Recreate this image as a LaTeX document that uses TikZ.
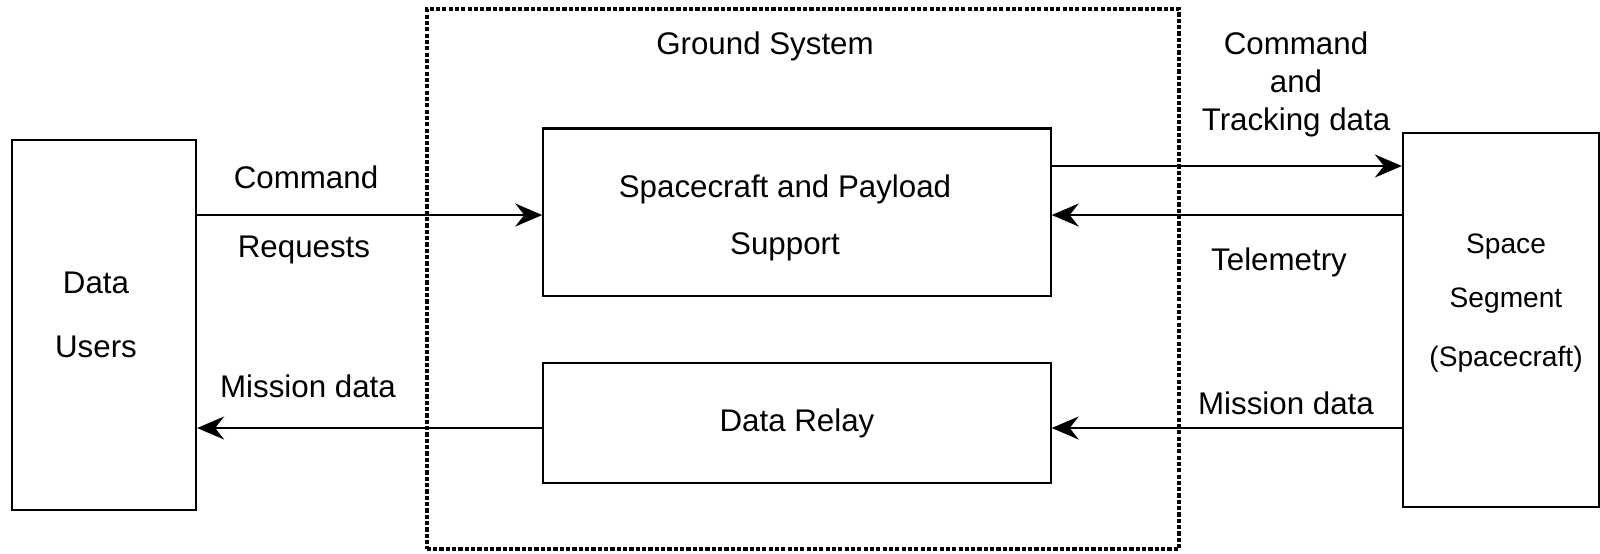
\documentclass[tikz,border=0pt]{standalone}
\usepackage{fontspec}
\setmainfont{Liberation Sans}
\usepackage{tikz}
\usetikzlibrary{positioning,arrows.meta}

\begin{document}
\begin{tikzpicture}[x=0.01cm, y=-0.01cm,
        font=\fontsize{8.9}{10.8}\selectfont,
        block/.style={rectangle, draw, line width=0.6pt, align=center, inner sep=0pt},
        flow/.style={-{Stealth[length=2.7mm, width=2.3mm, inset=0.9mm]}, line width=0.6pt},
        lbl/.style={inner sep=0pt, align=center}]
        \useasboundingbox (0,0) rectangle (1600,553);

        % boxes
        \node (ground) [rectangle, draw, line width=1.2pt, dash pattern=on 1.2pt off 0.6pt, minimum width=7.52cm, minimum height=5.4cm] at (803,279) {};
        \node (users) [block, minimum width=1.84cm, minimum height=3.7cm] at (104,325) {};
        \node (support) [block, minimum width=5.07cm, minimum height=1.67cm] at (797,212) {};
        \node (relay) [block, minimum width=5.07cm, minimum height=1.2cm] at (797,423) {Data Relay};
        \node (space) [block, minimum width=1.96cm, minimum height=3.74cm] at (1501,320) {};

        % labels
        \node (userstext) [lbl] at (96,315) {Data\\[7.3pt]Users};
        \node (supporttext) [lbl] at (785,218) {Spacecraft and Payload\\[5.6pt]Support};
        \node (spacetext) [lbl, font=\fontsize{8}{9.8}\selectfont] at (1506,303) {Space\\[5.5pt]Segment\\[7pt](Spacecraft)};
        \node (groundtitle) [lbl] at (765,46) {Ground System};
        \node (cmdtitle) [lbl] at (1296,84) {Command\\and\\Tracking data};
        \node (cmd) [lbl] at (306,177) {Command};
        \node (req) [lbl] at (304,250) {Requests};
        \node (missionleft) [lbl] at (308,386) {Mission data};
        \node (telemetry) [lbl] at (1279,262) {Telemetry};
        \node (missionright) [lbl] at (1286,403) {Mission data};

        % connectors
        \draw[flow] ([yshift=-0.03cm]users.east |- support.west) -- ([yshift=-0.03cm]support.west);
        \draw[flow] ([yshift=-0.05cm]relay.west) -- ([yshift=-0.05cm]users.east |- relay.west);
        \draw[flow] ([yshift=0.46cm]support.east) -- ([yshift=0.46cm]space.west |- support.east);
        \draw[flow] ([yshift=-0.03cm]space.west |- support.east) -- ([yshift=-0.03cm]support.east);
        \draw[flow] ([yshift=-0.05cm]space.west |- relay.east) -- ([yshift=-0.05cm]relay.east);
    \end{tikzpicture}
\end{document}
